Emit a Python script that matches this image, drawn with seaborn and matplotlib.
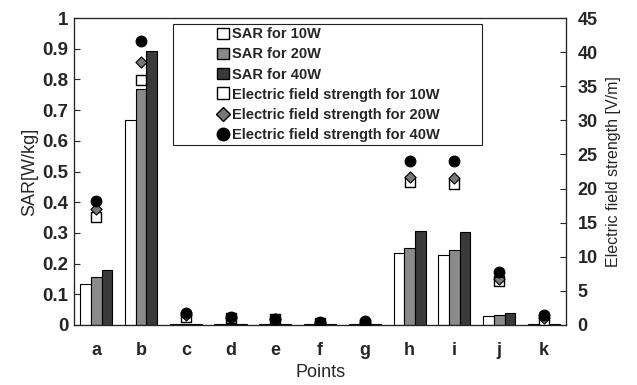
import numpy as np
import pandas as pd
import seaborn as sns
import matplotlib
matplotlib.use("Agg")
import matplotlib.pyplot as plt
from matplotlib.patches import Patch, Rectangle
from matplotlib.lines import Line2D

points = ["a", "b", "c", "d", "e", "f", "g", "h", "i", "j", "k"]
sar_10w = [0.133, 0.667, 0.003, 0.003, 0.003, 0.002, 0.002, 0.233, 0.228, 0.030, 0.003]
sar_20w = [0.155, 0.768, 0.003, 0.003, 0.003, 0.002, 0.002, 0.250, 0.243, 0.032, 0.003]
sar_40w = [0.180, 0.893, 0.004, 0.004, 0.003, 0.002, 0.002, 0.307, 0.304, 0.040, 0.004]
ef_10w = [15.8, 35.9, 1.2, 1.0, 0.8, 0.3, 0.1, 20.9, 20.7, 6.4, 0.7]
ef_20w = [17.0, 38.5, 1.4, 1.0, 0.8, 0.3, 0.3, 21.7, 21.6, 6.8, 1.0]
ef_40w = [18.2, 41.7, 1.8, 1.1, 0.9, 0.4, 0.6, 24.0, 24.0, 7.8, 1.5]
series_sar = ["SAR for 10W", "SAR for 20W", "SAR for 40W"]
series_ef = ["Electric field strength for 10W", "Electric field strength for 20W",
             "Electric field strength for 40W"]

sns.set_style("white")
plt.rcParams["font.family"] = ["Liberation Sans", "DejaVu Sans"]
plt.rcParams["font.weight"] = "bold"

sar_df = pd.DataFrame({
    "Points": points * 3,
    "SAR": sar_10w + sar_20w + sar_40w,
    "Series": [series_sar[0]] * 11 + [series_sar[1]] * 11 + [series_sar[2]] * 11,
})

fig = plt.figure(figsize=(6.37, 3.85), dpi=100)
ax = fig.add_axes([0.116, 0.156, 0.773, 0.797])
bar_colors = ["#ffffff", "#8a8a8a", "#3a3a3a"]
sns.barplot(data=sar_df, x="Points", y="SAR", hue="Series", palette=bar_colors,
            edgecolor="black", linewidth=0.8, width=0.72, ax=ax, legend=False)
ax.set_ylim(0, 1)
ax.set_xlim(-0.5, len(points) - 0.5)
ax.set_yticks(np.arange(0, 1.01, 0.1))
ax.set_yticklabels(["0"] + [f"{v:.1f}" for v in np.arange(0.1, 0.95, 0.1)] + ["1"])
ax.set_ylabel("SAR[W/kg]", fontsize=13, fontweight="normal", labelpad=3)
ax.set_xlabel("Points", fontsize=13, fontweight="normal", labelpad=4)
ax.set_xticks(np.arange(-0.5, len(points), 1.0), minor=True)
ax.tick_params(axis="x", which="major", length=0, labelsize=13, pad=12)
ax.tick_params(axis="x", which="minor", direction="in", length=4, width=0.8, top=False)
ax.tick_params(axis="y", direction="in", length=4, labelsize=13.5, left=True, pad=4)
for s in ax.spines.values():
    s.set_color("#333333")
    s.set_linewidth(0.9)

ax2 = ax.twinx()
ef_df = pd.DataFrame({"Points": points, "e10": ef_10w, "e20": ef_20w, "e40": ef_40w})
sns.scatterplot(data=ef_df, x="Points", y="e10", marker="s", s=45, facecolor="white",
                edgecolor="black", linewidth=1.0, ax=ax2, zorder=3)
sns.scatterplot(data=ef_df, x="Points", y="e20", marker="D", s=32, color="#777777",
                edgecolor="black", linewidth=0.8, ax=ax2, zorder=4)
sns.scatterplot(data=ef_df, x="Points", y="e40", marker="o", s=60, color="black",
                edgecolor="black", linewidth=0.8, ax=ax2, zorder=5)
ax2.set_ylim(0, 45)
ax2.set_xlim(-0.5, len(points) - 0.5)
ax2.set_yticks(np.arange(0, 46, 5))
ax2.set_ylabel("Electric field strength [V/m]", fontsize=11.5, fontweight="normal", labelpad=6)
ax2.tick_params(axis="y", direction="in", length=4, labelsize=13, right=True, pad=8)
ax2.set_xlabel("")

ax2.add_patch(Rectangle((0.201, 0.586), 0.628, 0.394, transform=ax2.transAxes,
                        facecolor="white", edgecolor="#222222", linewidth=0.8, zorder=6))

handles = [
    Patch(facecolor=bar_colors[0], edgecolor="black", label=series_sar[0]),
    Patch(facecolor=bar_colors[1], edgecolor="black", label=series_sar[1]),
    Patch(facecolor=bar_colors[2], edgecolor="black", label=series_sar[2]),
    Line2D([], [], marker="s", linestyle="none", markerfacecolor="white",
           markeredgecolor="black", markersize=8, label=series_ef[0]),
    Line2D([], [], marker="D", linestyle="none", markerfacecolor="#777777",
           markeredgecolor="black", markersize=7, label=series_ef[1]),
    Line2D([], [], marker="o", linestyle="none", markerfacecolor="black",
           markeredgecolor="black", markersize=9, label=series_ef[2]),
]
leg = ax2.legend(handles=handles, loc="center", bbox_to_anchor=(0.517, 0.783),
                 fontsize=10.5, frameon=False, handlelength=0.8,
                 handleheight=0.8, handletextpad=0.2, labelspacing=0.42,
                 borderpad=0.2)
leg.set_zorder(7)
for t in leg.get_texts():
    t.set_fontweight("bold")

fig.savefig("out.png", dpi=100)
